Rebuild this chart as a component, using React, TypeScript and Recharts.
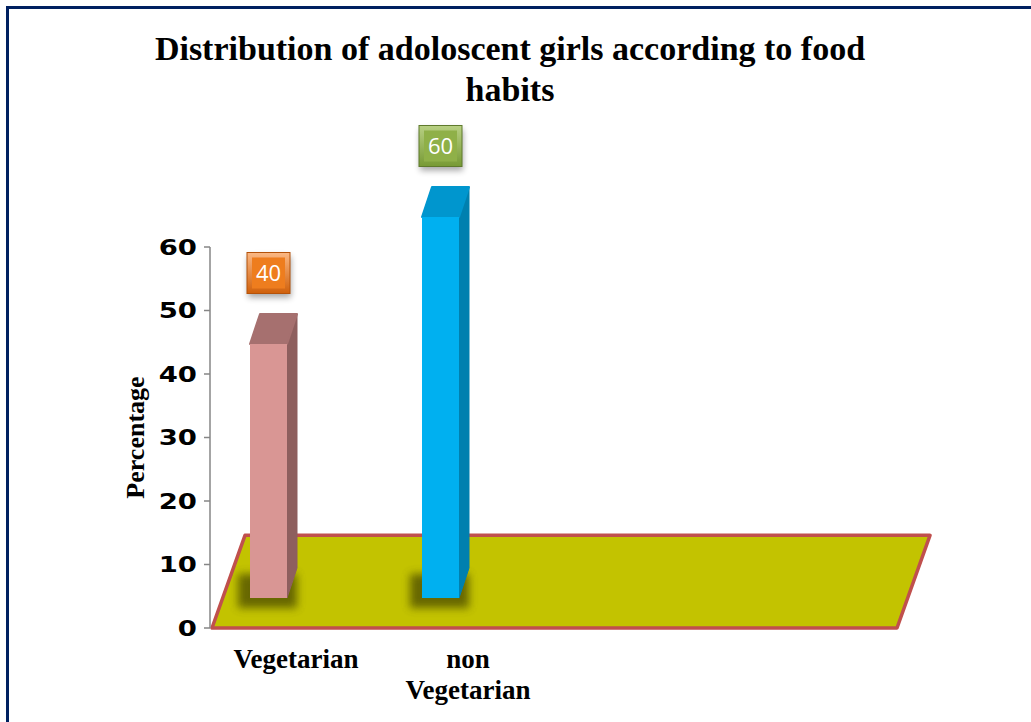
import React from "react";
import { BarChart, Bar, XAxis, YAxis, ReferenceArea } from "recharts";

// ---- data ----
const categories = ["Vegetarian", "non Vegetarian"];
const percentages = [40, 60];
const yTicks = [0, 10, 20, 30, 40, 50, 60];
const titleLines = ["Distribution of adoloscent girls according to food", "habits"];
const yAxisTitle = "Percentage";
const floorHeight = 14.6; // height of the 3D floor in axis units

// ---- styles ----
const barColors = [
  { front: "#D99694", top: "#A6706F", side: "#8E5F5E" },
  { front: "#00B0F0", top: "#0096CE", side: "#0080AF" },
];
const labelColors = [
  { light: "#FBB884", mid: "#EE7D1E", dark: "#D0600A", edge: "#B4520A" },
  { light: "#B8D083", mid: "#8FB048", dark: "#779A34", edge: "#5F7A2C" },
];
const SHIFT_X = -28;
const LIFT = 30;
const DEPTH_X = 10;
const DEPTH_Y = 30;
const LABEL_GAP = 71;
const SERIF = "'Liberation Serif', 'Times New Roman', serif";

const data = categories.map((c, i) => ({ name: c, value: percentages[i] }));

const FloorShape = (props: any) => {
  const { x, y, width, height } = props;
  const pts = [
    [x + 2, y + height],
    [x + width, y + height],
    [x + width + 33, y],
    [x + 35, y],
  ]
    .map((p) => p.join(","))
    .join(" ");
  return (
    <g>
      <defs>
        <filter id="shBlur" x="-50%" y="-50%" width="200%" height="200%">
          <feGaussianBlur stdDeviation="4" />
        </filter>
        <filter id="lblShadow" x="-50%" y="-50%" width="200%" height="200%">
          <feGaussianBlur stdDeviation="3" />
        </filter>
      </defs>
      <polygon points={pts} fill="#C3C300" stroke="#C0504D" strokeWidth={3.5} strokeLinejoin="round" />
    </g>
  );
};

const Bar3D = (props: any) => {
  const { x, y, width, height, index } = props;
  if (height == null || height <= 0) return null;
  const c = barColors[index % barColors.length];
  const fx = x + SHIFT_X;
  const fy = y - LIFT;
  const w = width;
  const h = height;
  const top = `${fx},${fy} ${fx + DEPTH_X},${fy - DEPTH_Y} ${fx + w + DEPTH_X},${fy - DEPTH_Y} ${fx + w},${fy}`;
  const side = `${fx + w},${fy} ${fx + w + DEPTH_X},${fy - DEPTH_Y} ${fx + w + DEPTH_X},${fy + h - DEPTH_Y} ${fx + w},${fy + h}`;
  return (
    <g>
      <rect x={fx - 12} y={fy + h - 24} width={w + 22} height={34} fill="#4a4a00" opacity={0.75} filter="url(#shBlur)" />
      <polygon points={side} fill={c.side} stroke={c.side} strokeWidth={1} strokeLinejoin="round" />
      <polygon points={top} fill={c.top} stroke={c.top} strokeWidth={2} strokeLinejoin="round" />
      <rect x={fx} y={fy} width={w} height={h} fill={c.front} />
    </g>
  );
};

const BoxLabel = (props: any) => {
  const { x, y, width, value, index } = props;
  const c = labelColors[index % labelColors.length];
  const cx = x + SHIFT_X + width / 2;
  const cy = y - LIFT - LABEL_GAP;
  const bw = 43;
  const bh = 41;
  const gid = `lg${index}`;
  return (
    <g>
      <defs>
        <linearGradient id={gid} x1="0" y1="0" x2="0" y2="1">
          <stop offset="0" stopColor={c.light} />
          <stop offset="1" stopColor={c.dark} />
        </linearGradient>
      </defs>
      <rect x={cx - bw / 2 + 1} y={cy - bh / 2 + 4} width={bw} height={bh} fill="#000" opacity={0.35} filter="url(#lblShadow)" />
      <rect x={cx - bw / 2} y={cy - bh / 2} width={bw} height={bh} fill={`url(#${gid})`} stroke={c.edge} strokeWidth={1} />
      <rect x={cx - bw / 2 + 5} y={cy - bh / 2 + 5} width={bw - 10} height={bh - 10} fill={c.mid} />
      <text x={cx} y={cy + 8} textAnchor="middle" fill="#fff" fontFamily="'Open Sans', sans-serif" fontSize={22}>
        {value}
      </text>
    </g>
  );
};

const CategoryTick = (props: any) => {
  const { x, y, payload } = props;
  const label: string = payload.value;
  const lines = label.length > 12 ? label.split(" ") : [label];
  return (
    <g>
      {lines.map((ln, i) => (
        <text
          key={i}
          x={x}
          y={y + 40 + i * 31}
          textAnchor="middle"
          fontFamily={SERIF}
          fontWeight="bold"
          fontSize={27}
          fill="#000"
        >
          {ln}
        </text>
      ))}
    </g>
  );
};

const ValueTick = (props: any) => {
  const { x, y, payload } = props;
  return (
    <g transform={`translate(${x},${y}) scale(1.25,1)`}>
      <text
        x={0}
        y={0}
        dy="0.36em"
        textAnchor="end"
        fontFamily="'DejaVu Sans', sans-serif"
        fontWeight="bold"
        fontSize={22}
        fill="#000"
      >
        {payload.value}
      </text>
    </g>
  );
};

const YTitle = (props: any) => {
  const vb = props.viewBox || {};
  const cx = (vb.x || 0) + 135;
  const cy = (vb.y || 0) + (vb.height || 0) / 2;
  return (
    <text
      x={cx}
      y={cy}
      dy="0.35em"
      transform={`rotate(-90 ${cx} ${cy})`}
      textAnchor="middle"
      fontFamily={SERIF}
      fontWeight="bold"
      fontSize={26}
      fill="#000"
    >
      {yAxisTitle}
    </text>
  );
};

export default function App() {
  return (
    <div style={{ position: "absolute", left: 0, top: 0, width: 1031, height: 722, background: "#fff", overflow: "hidden" }}>
      <div
        style={{
          position: "absolute",
          left: 6,
          top: 6,
          width: 1100,
          height: 800,
          borderLeft: "3px solid #002060",
          borderTop: "3px solid #002060",
        }}
      />
      <div
        style={{
          position: "absolute",
          left: 0,
          top: 28,
          width: 1020,
          textAlign: "center",
          fontFamily: SERIF,
          fontWeight: "bold",
          fontSize: 34,
          lineHeight: "41px",
          color: "#000",
        }}
      >
        {titleLines.map((t, i) => (
          <div key={i}>{t}</div>
        ))}
      </div>
      <div style={{ position: "absolute", left: 0, top: 0 }}>
        <BarChart width={1031} height={722} data={data} margin={{ top: 247, right: 134, bottom: 34, left: 0 }}>
          <XAxis xAxisId="floor" type="number" domain={[0, 1]} hide />
          <ReferenceArea xAxisId="floor" x1={0} x2={1} y1={0} y2={floorHeight} shape={FloorShape} ifOverflow="visible" />
          <XAxis
            dataKey="name"
            height={60}
            axisLine={false}
            tickLine={false}
            tickSize={0}
            tickMargin={0}
            padding={{ left: 0, right: 343 }}
            tick={CategoryTick}
            interval={0}
          />
          <YAxis
            width={210}
            domain={[0, 60]}
            ticks={yTicks}
            interval={0}
            axisLine={{ stroke: "#868686", strokeWidth: 1.5 }}
            tickLine={{ stroke: "#868686", strokeWidth: 1.5 }}
            tickSize={6}
            tickMargin={7}
            tick={ValueTick}
            label={<YTitle />}
          />
          <Bar dataKey="value" barSize={37} isAnimationActive={false} shape={Bar3D} label={BoxLabel} />
        </BarChart>
      </div>
    </div>
  );
}
